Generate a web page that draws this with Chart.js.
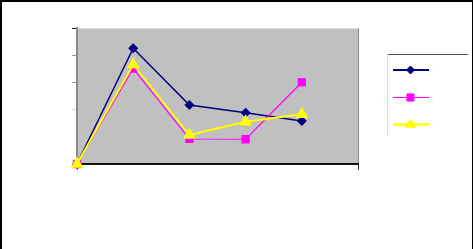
<!DOCTYPE html>
<html>
<head>
<meta charset="utf-8">
<style>
html,body{margin:0;padding:0;background:#fff;overflow:hidden;}
canvas{display:block;}
</style>
<script src="https://cdn.jsdelivr.net/npm/chart.js@4/dist/chart.umd.min.js"></script>
</head>
<body>
<canvas id="c" width="473" height="249"></canvas>
<script>
// Category slots (last slot is the empty end of the axis)
const categories = ['1', '2', '3', '4', '5', ''];
const seriesNames = ['Series1', 'Series2', 'Series3'];
const series1 = [0, 85.1, 43.4, 37.7, 31.6];
const series2 = [0, 70.2, 18.4, 18.2, 60.1];
const series3 = [0, 73.2, 21.3, 31.1, 36.5];
const yTicks = [0, 20, 40, 60, 80, 100];

const frameAndPlot = {
  id: 'frameAndPlot',
  beforeDraw(chart) {
    const ctx = chart.ctx, a = chart.chartArea;
    ctx.save();
    ctx.fillStyle = '#ffffff';
    ctx.fillRect(0, 0, chart.width, chart.height);
    ctx.fillStyle = '#000000';
    ctx.fillRect(0, 0, chart.width, 2);
    ctx.fillRect(0, 0, 2, chart.height);
    ctx.fillRect(chart.width - 1, 0, 1, chart.height);
    ctx.fillStyle = '#c0c0c0';
    ctx.fillRect(a.left, a.top, a.right - a.left, a.bottom - a.top);
    ctx.strokeStyle = '#dcdcdc';
    ctx.lineWidth = 1;
    ctx.beginPath();
    ctx.moveTo(a.left, a.top + 0.5);
    ctx.lineTo(a.right, a.top + 0.5);
    ctx.stroke();
    ctx.strokeStyle = '#8c8c8c';
    ctx.beginPath();
    ctx.moveTo(a.right + 0.5, a.top);
    ctx.lineTo(a.right + 0.5, a.bottom);
    ctx.stroke();
    ctx.restore();
  }
};

const boxLegend = {
  id: 'boxLegend',
  afterDraw(chart) {
    const ctx = chart.ctx;
    const x0 = 387, x1 = 468, y0 = 54, y1 = 137;
    ctx.save();
    ctx.strokeStyle = '#555555';
    ctx.lineWidth = 1;
    ctx.beginPath();
    ctx.moveTo(x0, y0 + 0.5);
    ctx.lineTo(x1, y0 + 0.5);
    ctx.stroke();
    ctx.strokeStyle = '#dddddd';
    ctx.beginPath();
    ctx.moveTo(x0 + 0.5, y0);
    ctx.lineTo(x0 + 0.5, y1);
    ctx.stroke();
    const rows = [70, 97.5, 124.5];
    chart.data.datasets.forEach((ds, i) => {
      const y = rows[i];
      ctx.strokeStyle = ds.borderColor;
      ctx.lineWidth = ds.legendLineWidth;
      ctx.beginPath();
      ctx.moveTo(393, y);
      ctx.lineTo(429, y);
      ctx.stroke();
      ctx.fillStyle = ds.pointBackgroundColor;
      ctx.strokeStyle = ds.pointBorderColor;
      ctx.lineWidth = 1;
      Chart.helpers.drawPoint(ctx, {pointStyle: ds.pointStyle, radius: ds.pointRadius, borderWidth: 1, rotation: 0}, 410.5, y);
    });
    ctx.restore();
  }
};

new Chart(document.getElementById('c'), {
  type: 'line',
  data: {
    labels: categories,
    datasets: [
      {label: seriesNames[0], data: series1, borderColor: '#000080', backgroundColor: '#000080',
       pointBackgroundColor: '#000080', pointBorderColor: '#000080', borderWidth: 1.5, legendLineWidth: 2,
       pointStyle: 'rectRot', pointRadius: 4, order: 3, tension: 0},
      {label: seriesNames[1], data: series2, borderColor: '#ff00ff', backgroundColor: '#ff00ff',
       pointBackgroundColor: '#ff00ff', pointBorderColor: '#ff00ff', borderWidth: 1.2, legendLineWidth: 1,
       pointStyle: 'rect', pointRadius: 5, order: 2, tension: 0},
      {label: seriesNames[2], data: series3, borderColor: '#ffff00', backgroundColor: '#ffff00',
       pointBackgroundColor: '#ffff00', pointBorderColor: '#ffff00', borderWidth: 2, legendLineWidth: 2.5,
       pointStyle: 'triangle', pointRadius: 5.5, order: 1, tension: 0}
    ]
  },
  options: {
    responsive: false,
    animation: false,
    devicePixelRatio: 1,
    clip: false,
    layout: {padding: {left: 72, top: 28, right: 115, bottom: 79}},
    plugins: {legend: {display: false}, tooltip: {enabled: false}, title: {display: false}},
    elements: {point: {hoverRadius: 5}},
    scales: {
      x: {
        type: 'category',
        offset: false,
        ticks: {display: false},
        grid: {
          display: true, drawOnChartArea: false, drawTicks: true, tickLength: 6, lineWidth: 1,
          color: (c) => (c.index === 0 ? '#777777' : (c.index === categories.length - 1 ? '#333333' : 'rgba(0,0,0,0)'))
        },
        border: {display: true, color: '#111111', width: 2}
      },
      y: {
        type: 'linear',
        min: yTicks[0],
        max: yTicks[yTicks.length - 1],
        afterBuildTicks: (s) => { s.ticks = yTicks.map(v => ({value: v})); },
        ticks: {display: false},
        grid: {
          display: true, drawOnChartArea: false, drawTicks: true, tickLength: 5, lineWidth: 1,
          color: (c) => {
            const v = c.tick ? c.tick.value : 0;
            if (v === 0 || v === 100) return '#222222';
            if (v === 20) return 'rgba(0,0,0,0)';
            if (v === 40) return 'rgba(80,80,80,0.25)';
            return '#999999';
          }
        },
        border: {display: true, color: '#8a8a8a', width: 2}
      }
    }
  },
  plugins: [frameAndPlot, boxLegend]
});
</script>
</body>
</html>
